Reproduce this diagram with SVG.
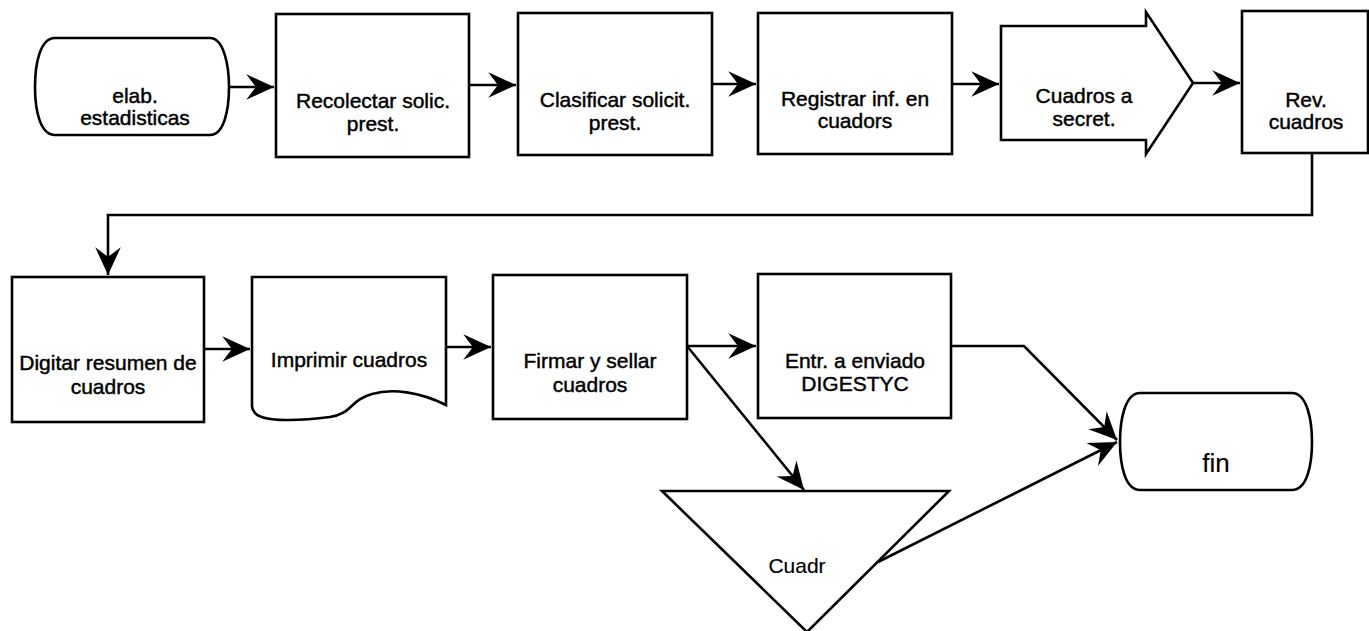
<svg xmlns="http://www.w3.org/2000/svg" width="1369" height="631" viewBox="0 0 1369 631">
  <style>
    .shape { fill: #ffffff; stroke: #000000; stroke-width: 2.6; stroke-linejoin: miter; }
    .label { font-family: "Liberation Sans", Arial, sans-serif; font-size: 21px; fill: #000000; stroke: #000000; stroke-width: 0.45; text-anchor: middle; }
    .thin { stroke-width: 0.15; }
    .big { font-size: 26px; }
    .conn { fill: none; stroke: #000000; stroke-width: 2.6; marker-end: url(#head); }
  </style>
  <defs>
    <!-- swept-back arrowhead, tip sits on the path end -->
    <marker id="head" markerUnits="userSpaceOnUse" markerWidth="32" markerHeight="32" refX="0" refY="0" viewBox="-28 -14 30 28" orient="auto">
      <path d="M0,0 L-26,-12 L-17,0 L-26,12 Z" fill="#000000"/>
    </marker>
  </defs>
  <rect width="1369" height="631" fill="#ffffff"/>

  <!-- connectors -->
  <g id="connectors">
    <path class="conn" d="M229,87 H274"/>
    <path class="conn" d="M469,85 H516"/>
    <path class="conn" d="M712,84 H756"/>
    <path class="conn" d="M952,84 H999"/>
    <path class="conn" d="M1193,83 H1240"/>
    <path class="conn" d="M1312,153 V215 H108 V275"/>
    <path class="conn" d="M204,349 H250"/>
    <path class="conn" d="M446,347 H491"/>
    <path class="conn" d="M687,346 H756"/>
    <path class="conn" d="M687,346 L804,490"/>
    <path class="conn" d="M951,346 H1024 L1117,440"/>
    <path class="conn" d="M878,562 L1117,442"/>
  </g>

  <g id="n-inicio">
    <path class="shape" d="M55,38 H210 C224,38 229,66 229,87 C229,110 224,135 210,135 H55 C40,135 35,110 35,87 C35,64 40,38 55,38 Z"/>
    <text class="label" x="135" y="103">elab.</text>
    <text class="label" x="135" y="125">estadisticas</text>
  </g>

  <g id="n-recolectar">
    <rect class="shape" x="276" y="14" width="193" height="143"/>
    <text class="label" x="373" y="108">Recolectar solic.</text>
    <text class="label" x="373" y="131">prest.</text>
  </g>

  <g id="n-clasificar">
    <rect class="shape" x="518" y="13" width="194" height="142"/>
    <text class="label" x="615" y="107">Clasificar solicit.</text>
    <text class="label" x="615" y="130">prest.</text>
  </g>

  <g id="n-registrar">
    <rect class="shape" x="758" y="13" width="194" height="141"/>
    <text class="label" x="855" y="106">Registrar inf. en</text>
    <text class="label" x="855" y="128">cuadors</text>
  </g>

  <g id="n-secret">
    <path class="shape" d="M1001,26 H1146 V12 L1193,83 L1146,154 V140 H1001 Z"/>
    <text class="label" x="1084" y="103">Cuadros a</text>
    <text class="label" x="1084" y="126">secret.</text>
  </g>

  <g id="n-rev">
    <rect class="shape" x="1242" y="11" width="126" height="142"/>
    <text class="label" x="1306" y="107">Rev.</text>
    <text class="label" x="1306" y="129">cuadros</text>
  </g>

  <g id="n-digitar">
    <rect class="shape" x="12" y="277" width="192" height="145"/>
    <text class="label" x="108" y="370">Digitar resumen de</text>
    <text class="label" x="108" y="394">cuadros</text>
  </g>

  <g id="n-imprimir">
    <path class="shape" d="M252,277 H446 V405 C420,392 392,388 372,394 C350,400 352,414 330,417 C300,421 265,422 256,414 C253,411 252,409 252,406 Z"/>
    <text class="label" x="349" y="367">Imprimir cuadros</text>
  </g>

  <g id="n-firmar">
    <rect class="shape" x="493" y="275" width="194" height="144"/>
    <text class="label" x="590" y="368">Firmar y sellar</text>
    <text class="label" x="590" y="392">cuadros</text>
  </g>

  <g id="n-entr">
    <rect class="shape" x="758" y="274" width="193" height="144"/>
    <text class="label" x="855" y="368">Entr. a enviado</text>
    <text class="label" x="855" y="391">DIGESTYC</text>
  </g>

  <g id="n-archivo">
    <path class="shape" d="M662,491 H949 L807,632 Z"/>
    <text class="label thin" x="797" y="573">Cuadr</text>
  </g>

  <g id="n-fin">
    <path class="shape" d="M1140,393 H1292 C1307,393 1312,420 1312,442 C1312,465 1307,490 1292,490 H1140 C1125,490 1120,465 1120,442 C1120,420 1125,393 1140,393 Z"/>
    <text class="label big thin" x="1216" y="472">fin</text>
  </g>
</svg>
